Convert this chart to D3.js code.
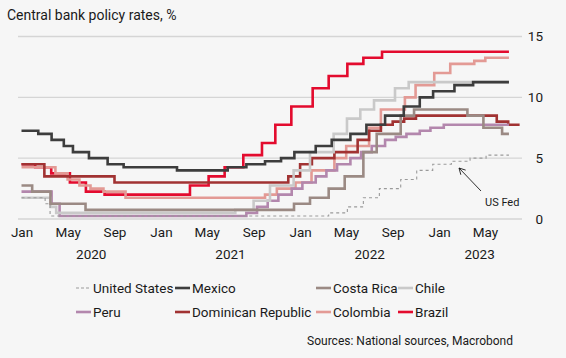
<!DOCTYPE html>
<html><head><meta charset="utf-8">
<script src="https://cdn.jsdelivr.net/npm/d3@7"></script>
<style>
html,body{margin:0;padding:0;background:#f6f6f6;}
svg{display:block;font-family:Roboto,"Noto Sans",sans-serif;}
</style>
</head><body>
<svg id="chart" width="566" height="358"></svg>
<script>
// ---------------- DATA (policy-rate change points: [date, %]) ----------------
const unitedStates = [["2020-01-01",1.75],["2020-03-03",1.25],["2020-03-16",0.25],["2022-03-17",0.5],["2022-05-05",1.0],["2022-06-16",1.75],["2022-07-28",2.5],["2022-09-22",3.25],["2022-11-03",4.0],["2022-12-15",4.5],["2023-02-02",4.75],["2023-03-23",5.0],["2023-05-04",5.25],["2023-07-03",5.25]];
const mexico = [["2020-01-01",7.25],["2020-02-14",7.0],["2020-03-20",6.5],["2020-04-21",6.0],["2020-05-15",5.5],["2020-06-26",5.0],["2020-08-14",4.5],["2020-09-25",4.25],["2021-02-12",4.0],["2021-06-25",4.25],["2021-08-13",4.5],["2021-10-01",4.75],["2021-11-12",5.0],["2021-12-17",5.5],["2022-02-11",6.0],["2022-03-25",6.5],["2022-05-13",7.0],["2022-06-24",7.75],["2022-08-12",8.5],["2022-09-30",9.25],["2022-11-11",10.0],["2022-12-16",10.5],["2023-02-10",11.0],["2023-03-31",11.25],["2023-07-03",11.25]];
const costaRica = [["2020-01-01",2.75],["2020-01-29",2.25],["2020-03-17",1.25],["2020-06-17",0.75],["2021-12-16",1.25],["2022-01-27",1.75],["2022-03-17",2.5],["2022-04-28",3.5],["2022-06-16",5.5],["2022-07-21",7.0],["2022-09-22",8.5],["2022-10-27",9.0],["2023-03-16",8.5],["2023-04-27",7.5],["2023-06-15",7.0],["2023-07-03",7.0]];
const chile = [["2020-01-01",1.75],["2020-03-17",1.0],["2020-04-01",0.5],["2021-07-15",0.75],["2021-09-01",1.5],["2021-10-14",2.75],["2021-12-15",4.0],["2022-01-27",5.5],["2022-03-30",7.0],["2022-05-04",8.25],["2022-06-08",9.0],["2022-07-14",9.75],["2022-09-07",10.75],["2022-10-13",11.25],["2023-07-03",11.25]];
const peru = [["2020-01-01",2.25],["2020-03-20",1.25],["2020-04-10",0.25],["2021-08-13",0.5],["2021-09-10",1.0],["2021-10-08",1.5],["2021-11-05",2.0],["2021-12-10",2.5],["2022-01-07",3.0],["2022-02-11",3.5],["2022-03-11",4.0],["2022-04-08",4.5],["2022-05-13",5.0],["2022-06-10",5.5],["2022-07-08",6.0],["2022-08-12",6.5],["2022-09-09",6.75],["2022-10-07",7.0],["2022-11-11",7.25],["2022-12-09",7.5],["2023-01-13",7.75],["2023-07-03",7.75]];
const dominicanRepublic = [["2020-01-01",4.5],["2020-03-01",3.5],["2020-09-01",3.0],["2021-12-01",3.5],["2022-01-01",4.5],["2022-02-01",5.0],["2022-04-01",5.5],["2022-06-01",6.5],["2022-07-01",7.25],["2022-08-01",7.75],["2022-09-01",8.0],["2022-10-01",8.25],["2022-11-01",8.5],["2023-06-01",8.0],["2023-07-01",7.75],["2023-07-31",7.75]];
const colombia = [["2020-01-01",4.25],["2020-03-30",3.75],["2020-05-01",3.25],["2020-06-01",2.75],["2020-06-30",2.5],["2020-08-03",2.25],["2020-09-30",1.75],["2021-10-01",2.0],["2021-11-01",2.5],["2021-12-20",3.0],["2022-01-31",4.0],["2022-04-01",5.0],["2022-05-02",6.0],["2022-07-01",7.5],["2022-08-01",9.0],["2022-10-03",10.0],["2022-10-31",11.0],["2022-12-19",12.0],["2023-01-30",12.75],["2023-04-03",13.0],["2023-05-02",13.25],["2023-07-03",13.25]];
const brazil = [["2020-01-01",4.5],["2020-02-06",4.25],["2020-03-19",3.75],["2020-05-07",3.0],["2020-06-18",2.25],["2020-08-06",2.0],["2021-03-18",2.75],["2021-05-06",3.5],["2021-06-17",4.25],["2021-08-05",5.25],["2021-09-23",6.25],["2021-10-28",7.75],["2021-12-09",9.25],["2022-02-03",10.75],["2022-03-17",11.75],["2022-05-05",12.75],["2022-06-16",13.25],["2022-08-04",13.75],["2023-07-03",13.75]];

const seriesNames = ["United States","Mexico","Costa Rica","Chile","Peru","Dominican Republic","Colombia","Brazil"];
const yTickValues = [0,5,10,15];
const monthTickDates = ["2020-01-01","2020-05-01","2020-09-01","2021-01-01","2021-05-01","2021-09-01","2022-01-01","2022-05-01","2022-09-01","2023-01-01","2023-05-01"];
const yearLabels = ["2020","2021","2022","2023"];
const domainDates = ["2020-01-01","2023-08-01"];

// ---------------- STYLES ----------------
const seriesData = [unitedStates, mexico, costaRica, chile, peru, dominicanRepublic, colombia, brazil];
const colors = ["#9a9a9a","#3d3d3d","#9b8a84","#c9c9c9","#b387ad","#a13232","#e39a95","#e30b2e"];

const parse = d3.timeParse("%Y-%m-%d");
const svg = d3.select("#chart");
svg.append("rect").attr("width",566).attr("height",358).attr("fill","#f6f6f6");

const x = d3.scaleTime().domain(domainDates.map(parse)).range([21.5, 520]);
const y = d3.scaleLinear().domain([0,15]).range([219, 36.5]);

// title
svg.append("text").attr("x",7).attr("y",20).attr("font-size",14).attr("fill","#1a1a1a")
  .text("Central bank policy rates, %");

// gridlines
svg.append("g").selectAll("line").data(yTickValues).join("line")
  .attr("x1",18).attr("x2",522).attr("y1",d=>y(d)).attr("y2",d=>y(d))
  .attr("stroke","#d5d5d5").attr("stroke-width",1.4);

// y axis labels (right side)
const yAxis = svg.append("g").attr("transform","translate(543,0)")
  .call(d3.axisLeft(y).tickValues(yTickValues).tickSize(0).tickPadding(0).tickFormat(d3.format("d")));
yAxis.select(".domain").remove();
yAxis.selectAll("text").attr("font-size",13.5).attr("fill","#1a1a1a").attr("font-family","Roboto,sans-serif");

// x axis month labels
const xAxis = svg.append("g").attr("transform","translate(0,219)")
  .call(d3.axisBottom(x).tickValues(monthTickDates.map(parse)).tickSize(0).tickPadding(8.5).tickFormat(d3.timeFormat("%b")));
xAxis.select(".domain").remove();
xAxis.selectAll("text").attr("font-size",13.5).attr("fill","#1a1a1a").attr("font-family","Roboto,sans-serif");

// year labels centred on visible part of each year
const [d0,d1] = x.domain();
svg.append("g").selectAll("text").data(yearLabels).join("text")
  .attr("x", yr => {
    const a = new Date(Math.max(new Date(+yr,0,1), d0));
    const b = new Date(Math.min(new Date(+yr+1,0,1), d1));
    return (x(a)+x(b))/2;
  })
  .attr("y",259).attr("text-anchor","middle").attr("font-size",13.5).attr("fill","#1a1a1a")
  .text(d=>d);

// lines (drawn Brazil first so the others sit on top)
const line = d3.line().curve(d3.curveStepAfter).x(d=>x(parse(d[0]))).y(d=>y(d[1]));
const order = d3.range(seriesData.length).reverse();
const gl = svg.append("g").attr("fill","none");
order.forEach(i=>{
  const p = gl.append("path").attr("d",line(seriesData[i])).attr("stroke",colors[i]);
  if(i===0){ p.attr("stroke-width",1.1).attr("stroke-dasharray","3,3"); }
  else { p.attr("stroke-width",2.6); }
});

// US Fed annotation
svg.append("text").attr("x",485).attr("y",206).attr("font-size",11).attr("fill","#1a1a1a").text("US Fed");
const ax0=[481,191], ax1=[459,168];
svg.append("line").attr("x1",ax0[0]).attr("y1",ax0[1]).attr("x2",ax1[0]).attr("y2",ax1[1]).attr("stroke","#1a1a1a").attr("stroke-width",0.9);
const ang = Math.atan2(ax1[1]-ax0[1], ax1[0]-ax0[0]);
[-0.5,0.5].forEach(da=>{
  svg.append("line").attr("x1",ax1[0]).attr("y1",ax1[1])
    .attr("x2",ax1[0]-7*Math.cos(ang+da)).attr("y2",ax1[1]-7*Math.sin(ang+da))
    .attr("stroke","#1a1a1a").attr("stroke-width",0.9);
});

// legend
const legendPos = [[76,288],[175,288],[316,288],[398,288],[76,312],[175,312],[316,312],[398,312]];
const lg = svg.append("g");
seriesNames.forEach((name,i)=>{
  const [lx,ly] = legendPos[i];
  const l = lg.append("line").attr("x1",lx).attr("x2",lx+15).attr("y1",ly).attr("y2",ly).attr("stroke",colors[i]);
  if(i===0) l.attr("stroke-width",1.1).attr("stroke-dasharray","3,2");
  else l.attr("stroke-width",2.6);
  lg.append("text").attr("x",lx+17).attr("y",ly+5).attr("font-size",13.5).attr("fill","#1a1a1a").text(name);
});

// source
svg.append("text").attr("x",513).attr("y",345).attr("text-anchor","end").attr("font-size",12).attr("fill","#1a1a1a")
  .text("Sources: National sources, Macrobond");
</script>
</body></html>
